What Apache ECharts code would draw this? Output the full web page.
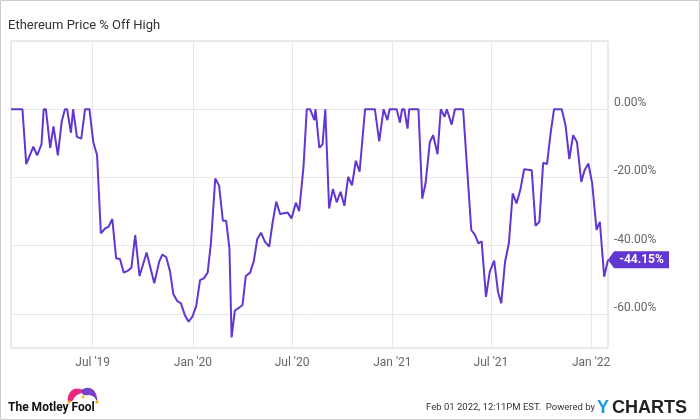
<!DOCTYPE html>
<html>
<head>
<meta charset="utf-8">
<title>Ethereum Price % Off High</title>
<script src="https://cdn.jsdelivr.net/npm/echarts@6.0.0/dist/echarts.min.js"></script>
<style>
  body { margin: 0; background: #fff; }
  #main { width: 700px; height: 420px; }
</style>
</head>
<body>
<div id="main"></div>
<script>
// data (percent below all-time high)
const dates = [
  '2019-02-01', '2019-02-22', '2019-03-01', '2019-03-14', '2019-03-21', '2019-03-29', '2019-04-02', '2019-04-06',
  '2019-04-14', '2019-04-20', '2019-04-28', '2019-05-05', '2019-05-11', '2019-05-15', '2019-05-22', '2019-05-26',
  '2019-06-02', '2019-06-10', '2019-06-17', '2019-06-25', '2019-07-02', '2019-07-09', '2019-07-16', '2019-07-24',
  '2019-07-30', '2019-08-06', '2019-08-13', '2019-08-20', '2019-08-27', '2019-09-04', '2019-09-10', '2019-09-17',
  '2019-09-25', '2019-10-08', '2019-10-22', '2019-10-31', '2019-11-06', '2019-11-13', '2019-11-20', '2019-11-26',
  '2019-12-03', '2019-12-10', '2019-12-17', '2019-12-24', '2019-12-31', '2020-01-07', '2020-01-14', '2020-01-21',
  '2020-01-28', '2020-02-03', '2020-02-11', '2020-02-18', '2020-02-25', '2020-03-02', '2020-03-08', '2020-03-12',
  '2020-03-18', '2020-03-24', '2020-04-01', '2020-04-07', '2020-04-15', '2020-04-22', '2020-04-28', '2020-05-05',
  '2020-05-12', '2020-05-20', '2020-05-26', '2020-06-02', '2020-06-09', '2020-06-23', '2020-06-30', '2020-07-08',
  '2020-07-14', '2020-07-22', '2020-07-28', '2020-08-03', '2020-08-11', '2020-08-13', '2020-08-20', '2020-08-26',
  '2020-08-31', '2020-09-07', '2020-09-14', '2020-09-21', '2020-09-28', '2020-10-05', '2020-10-12', '2020-10-19',
  '2020-10-26', '2020-11-02', '2020-11-12', '2020-11-30', '2020-12-08', '2020-12-16', '2020-12-23', '2020-12-27',
  '2021-01-09', '2021-01-15', '2021-01-19', '2021-01-23', '2021-01-29', '2021-02-01', '2021-02-18', '2021-02-25',
  '2021-03-03', '2021-03-11', '2021-03-17', '2021-03-25', '2021-03-31', '2021-04-07', '2021-04-11', '2021-04-20',
  '2021-04-26', '2021-05-11', '2021-05-26', '2021-06-02', '2021-06-08', '2021-06-14', '2021-06-22', '2021-06-29',
  '2021-07-07', '2021-07-14', '2021-07-20', '2021-07-27', '2021-08-03', '2021-08-10', '2021-08-17', '2021-08-24',
  '2021-08-31', '2021-09-14', '2021-09-21', '2021-09-28', '2021-10-05', '2021-10-12', '2021-10-19', '2021-10-25',
  '2021-11-08', '2021-11-15', '2021-11-22', '2021-11-29', '2021-12-06', '2021-12-14', '2021-12-20', '2021-12-27',
  '2022-01-03', '2022-01-11', '2022-01-17', '2022-01-25', '2022-02-01'
];
const offHigh = [
  0, 0, -16.1, -11.0, -13.5, -10.3, 0, 0,
  -11.3, -5.0, -13.5, -3.7, 0, 0, -6.9, 0,
  -8.1, -8.6, 0, 0, -9.6, -13.5, -36.4, -34.9,
  -34.5, -32.2, -43.7, -43.9, -47.9, -47.3, -46.5, -36.9,
  -48.9, -42.0, -51.0, -44.7, -42.6, -43.4, -47.6, -54.2,
  -56.2, -56.9, -60.3, -62.3, -60.8, -57.7, -50.1, -49.6,
  -47.9, -39.3, -20.3, -22.4, -32.7, -32.7, -40.8, -66.9,
  -59.0, -58.4, -57.4, -48.9, -47.9, -44.4, -38.1, -36.2,
  -38.8, -40.3, -33.5, -27.1, -30.7, -30.3, -32.0, -27.4,
  -29.9, -16.9, 0, 0, -3.2, 0, -11.3, -10.3,
  0, -29.1, -23.4, -27.3, -24.2, -28.3, -19.8, -22.3,
  -15.1, -18.3, 0, 0, -9.4, 0, -3.2, 0,
  0, -3.9, 0, 0, -5.7, 0, 0, -26.2,
  -21.8, -9.6, -7.6, -13.2, 0, -2.2, 0, -4.5,
  0, 0, -35.4, -36.9, -39.3, -38.7, -55.0, -47.6,
  -44.4, -53.5, -56.9, -44.7, -39.3, -24.7, -27.6, -23.7,
  -17.6, -17.9, -34.2, -33.0, -15.7, -16.1, -6.6, 0,
  0, -4.7, -14.6, -7.6, -9.6, -21.3, -17.9, -15.9,
  -21.8, -35.4, -33.0, -49.1, -44.15
];
const xTickDates = ['2019-07-01', '2020-01-01', '2020-07-01', '2021-01-01', '2021-07-01', '2022-01-01'];
const yTickValues = [0, -20, -40, -60];
const monthNames = ['Jan', 'Feb', 'Mar', 'Apr', 'May', 'Jun', 'Jul', 'Aug', 'Sep', 'Oct', 'Nov', 'Dec'];

const purple = '#6236d0';

function toTime(s) {
  var p = s.split('-');
  return new Date(+p[0], +p[1] - 1, +p[2]).getTime();
}

const seriesData = dates.map((d, i) => [toTime(d), offHigh[i]]);
const xTicks = xTickDates.map(toTime);
const last = seriesData[seriesData.length - 1];

var chart = echarts.init(document.getElementById('main'));
chart.setOption({
  animation: false,
  title: {
    text: 'Ethereum Price % Off High',
    left: 8,
    top: 19,
    padding: 0,
    textStyle: {
      color: '#333',
      fontSize: 13,
      fontWeight: 'normal',
      fontFamily: 'Roboto'
    }
  },
  grid: {
    left: 11,
    right: 92,
    top: 41,
    bottom: 72,
    show: true,
    borderColor: '#d4d4d4',
    borderWidth: 1
  },
  xAxis: {
    // timestamps on a value axis so the ticks can sit on Jan/Jul 1
    type: 'value',
    min: toTime(dates[0]),
    max: toTime(dates[dates.length - 1]),
    axisLine: { show: false },
    axisTick: { show: false, customValues: xTicks },
    axisLabel: {
      customValues: xTicks,
      color: '#666',
      fontSize: 12,
      fontFamily: 'Roboto',
      margin: 9,
      formatter: function (value) {
        var d = new Date(value);
        return monthNames[d.getMonth()] + " '" + String(d.getFullYear()).slice(2);
      }
    },
    splitLine: { show: true, lineStyle: { color: '#e8e8e8' } }
  },
  yAxis: {
    type: 'value',
    position: 'right',
    min: -70,
    max: 20,
    interval: 10,
    axisLine: { show: false },
    axisTick: { show: false },
    axisLabel: {
      color: '#666',
      fontSize: 12,
      fontFamily: 'Roboto',
      margin: 6,
      verticalAlign: 'bottom',
      formatter: function (v) {
        return yTickValues.indexOf(v) >= 0 ? v.toFixed(2) + '%' : '';
      }
    },
    splitLine: {
      show: true,
      lineStyle: { color: ['rgba(0,0,0,0)', '#e8e8e8'] }
    }
  },
  series: [{
    name: 'Ethereum Price % Off High',
    type: 'line',
    data: seriesData,
    showSymbol: false,
    clip: false,
    lineStyle: { color: purple, width: 2 },
    itemStyle: { color: purple },
    markPoint: {
      symbol: 'path://M0,8.5L6,0L61,0L61,17L6,17Z',
      symbolSize: [61, 17],
      symbolOffset: [30.5, 0],
      itemStyle: { color: purple },
      label: {
        show: true,
        position: 'inside',
        offset: [3, 0],
        color: '#fff',
        fontSize: 12,
        fontWeight: 'bold',
        fontFamily: 'Roboto',
        formatter: function (p) {
          return p.value.toFixed(2) + '%';
        }
      },
      data: [{ coord: last, value: last[1] }]
    }
  }],
  graphic: [
    {
      type: 'rect',
      shape: { x: 0.5, y: 0.5, width: 699, height: 419 },
      style: { fill: 'none', stroke: '#cccccc', lineWidth: 1 },
      silent: true
    },
    {
      type: 'text',
      x: 8,
      y: 408,
      style: {
        text: 'The Motley Fool',
        fill: '#111',
        font: 'bold 12px Roboto',
        verticalAlign: 'middle'
      }
    },
    // jester hat of the logo
    {
      type: 'polygon',
      shape: { points: [[68, 401], [69, 394], [74, 389], [80, 389], [84, 392], [79, 394], [75, 397], [72, 401]], smooth: 0.4 },
      style: { fill: '#e8287c' }
    },
    {
      type: 'polygon',
      shape: { points: [[81, 391], [86, 388], [92, 389], [96, 394], [97, 401], [94, 397], [89, 395], [84, 395]], smooth: 0.4 },
      style: { fill: '#7a3fca' }
    },
    { type: 'circle', shape: { cx: 69, cy: 402, r: 1.6 }, style: { fill: '#f2b300' } },
    { type: 'circle', shape: { cx: 97, cy: 402, r: 1.6 }, style: { fill: '#f2b300' } },
    { type: 'circle', shape: { cx: 83, cy: 397, r: 1.4 }, style: { fill: '#f2b300' } },
    {
      type: 'text',
      x: 595,
      y: 408,
      style: {
        text: 'Feb 01 2022, 12:11PM EST.  Powered by',
        fill: '#333',
        font: '9.5px Roboto',
        align: 'right',
        verticalAlign: 'middle'
      }
    },
    {
      type: 'text',
      x: 597,
      y: 408,
      style: {
        text: 'Y',
        fill: '#1a9be0',
        font: 'bold 18px "Liberation Sans"',
        verticalAlign: 'middle'
      }
    },
    {
      type: 'text',
      x: 612,
      y: 408,
      style: {
        text: 'CHARTS',
        fill: '#222',
        font: 'bold 18px "Liberation Sans"',
        verticalAlign: 'middle'
      }
    }
  ]
});
</script>
</body>
</html>
